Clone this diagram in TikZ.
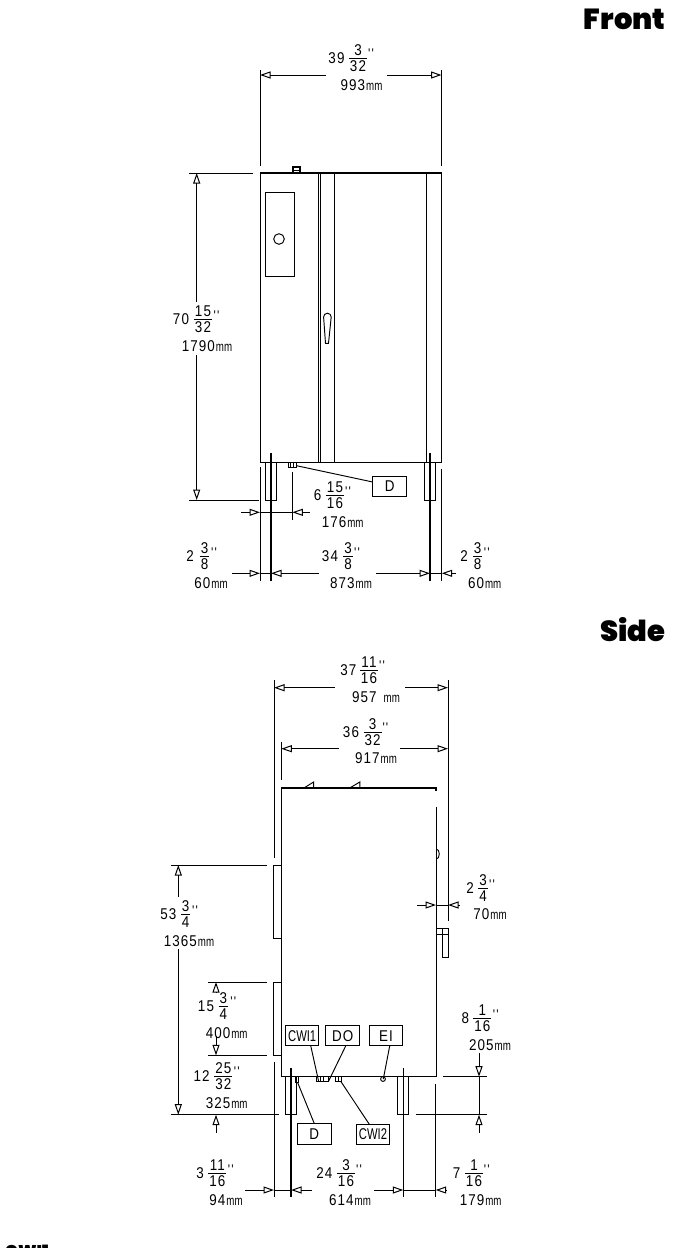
\documentclass[tikz,border=0pt]{standalone}
\usepackage{fontspec}
\usetikzlibrary{arrows.meta}
\newfontfamily\isofont[FakeStretch=0.86,LetterSpace=7]{Liberation Sans}
\newfontfamily\mmfont[FakeStretch=0.72]{Liberation Sans}
\newfontfamily\headfont{Poppins Black}
\newcommand{\iso}{\fontsize{15.6}{15.6}\selectfont\isofont}
\newcommand{\qmark}{\fontsize{14}{14}\selectfont\isofont '\hspace{1.2pt}'}
\newcommand{\mmtx}[1]{{\iso #1}\hspace{1pt}{\fontsize{13.5}{13.5}\selectfont\mmfont mm}}
% \fr{name}{int x}{int text}{frac x}{middle y}{num}{den}{quote x}
\newcommand{\fr}[8]{%
  \node[txt] (#1i) at (#2,#5) {#3};
  \node[txt] (#1n) at (#4,#5-8) {#6};
  \node[txt] (#1d) at (#4,#5+8) {#7};
  \draw[ln] ([yshift=2.5pt,xshift=-1pt]#1d.north west) -- ([yshift=2.5pt,xshift=1pt]#1d.north east);
  \node[qt] (#1q) at (#8,#5-4) {\qmark};
}
\tikzset{
  ln/.style={line width=0.95pt,black},
  thk/.style={line width=1.3pt,black},
  txt/.style={inner sep=0pt,outer sep=0pt,font=\iso},
  qt/.style={inner sep=0pt,outer sep=0pt},
  hd/.style={inner sep=0pt,outer sep=0pt,anchor=base east,font=\fontsize{29}{29}\selectfont\headfont},
  box/.style={draw=black,line width=1pt,inner sep=0pt,outer sep=0pt,font=\iso},
  dim/.style={line width=0.95pt,black,{Triangle[open,length=10.5pt,width=7pt,line width=1pt]}-},
}
\begin{document}
\begin{tikzpicture}[x=1pt,y=-1pt]
\clip (0,0) rectangle (674,1248);
\fill[white] (0,0) rectangle (674,1248);
% ===== headings
\node[hd] (hfront) at (665.5,29.5) {Front};
\node[hd] (hside) at (665.5,641.5) {Side};
\node[inner sep=0pt,anchor=base west,font=\fontsize{17}{17}\selectfont\headfont] (hcwi) at (5,1257.5) {CWI1};
% ===== FRONT view
\draw[ln] (260,173) rectangle (441.5,462.3);
\draw[thk] (260,173) -- (441.5,173) (260,462.3) -- (441.5,462.3);
\draw[ln] (318.4,173) -- (318.4,462.3);
\draw[ln] (320.4,173) -- (320.4,462.3);
\draw[ln] (334.5,173) -- (334.5,462.3);
\draw[ln] (426.5,173) -- (426.5,462.3);
\draw[ln] (265,192) rectangle (294,276);
\draw[ln] (279,239) circle (5.3);
\draw[thk] (293,167) rectangle (300,173);
\draw[ln] (293,170) -- (300,170);
\draw[ln] (323.6,317) arc (180:360:3.8) -- (328.5,343.3) -- (325.5,343.3) -- cycle;
% front feet
\draw[ln] (265.3,462.3) -- (265.3,500) -- (276.7,500) -- (276.7,462.3);
\draw[ln] (424.7,462.3) -- (424.7,500) -- (435.7,500) -- (435.7,462.3);
\draw[thk] (424.7,462.3) -- (424.7,500);
\draw[thk] (271,453) -- (271,581);
\draw[thk] (430,453) -- (430,581);
\draw[ln] (260,467) -- (260,581);
\draw[ln] (441.7,469) -- (441.7,581);
% drain
\draw[ln] (288,462.3) rectangle (296.5,467.3);
\draw[ln] (290.8,462.3) -- (290.8,467.3) (293.5,462.3) -- (293.5,467.3);
\node[box,minimum width=34pt,minimum height=20.5pt] (dfront) at (389.7,486.3) {D};
\coordinate (dfrontp) at (296.5,465.7);
\draw[ln] (dfrontp) -- (dfront.west |- 0,482);
% extension lines
\draw[ln] (260,70) -- (260,166);
\draw[ln] (441.5,70) -- (441.5,166);
\draw[ln] (189,173) -- (253,173);
\draw[ln] (189,500) -- (259,500);
\draw[ln] (292.3,472) -- (292.3,520);
% front dimensions
\draw[dim] (260,75) -- (325.5,75);
\draw[dim] (441.5,75) -- (387,75);
\fr{a}{336.5}{39}{358}{58}{3}{32}{371}
\node[txt] (am) at (361.5,85) {\mmtx{993}};
\draw[dim] (196.7,173) -- (196.7,302);
\draw[dim] (196.7,500) -- (196.7,355);
\fr{b}{181}{70}{203}{319.5}{15}{32}{216.5}
\node[txt] (bm) at (207,346.5) {\mmtx{1790}};
\draw[dim] (260,512.3) -- (241.3,512.3);
\draw[dim] (292.3,512.3) -- (310,512.3);
\draw[ln] (260,512.3) -- (292.3,512.3);
\fr{c}{317.7}{6}{335}{495.5}{15}{16}{348}
\node[txt] (cm) at (342.7,522) {\mmtx{176}};
\draw[dim] (260,573.3) -- (231.7,573.3);
\draw[ln] (260,573.3) -- (271,573.3);
\draw[dim] (271,573.3) -- (318.5,573.3);
\draw[dim] (430,573.3) -- (375.7,573.3);
\draw[ln] (430,573.3) -- (441.7,573.3);
\draw[dim] (441.7,573.3) -- (456,573.3);
\fr{d}{190}{2}{204.7}{556.5}{3}{8}{214}
\node[txt] (dm) at (211,583) {\mmtx{60}};
\fr{e}{330}{34}{348}{556.5}{3}{8}{357}
\node[txt] (em) at (351,583) {\mmtx{873}};
\fr{f}{464}{2}{477.7}{556.5}{3}{8}{486.7}
\node[txt] (fm) at (484.7,583) {\mmtx{60}};
% ===== SIDE view
\draw[thk] (281.3,1076.7) -- (281.3,788) -- (436,788) -- (436,791);
\draw[ln] (436,806.7) -- (436,1076.7) ;
\draw[thk] (281.3,1076.7) -- (436,1076.7);
\draw[ln] (313.6,782) -- (313.6,788) -- (303.9,788) -- cycle;
\draw[ln] (359.8,782) -- (359.8,788) -- (349.7,788) -- cycle;
\draw[ln] (436.3,849) arc (-90:90:3 and 5);
% side panels
\draw[ln] (281.3,865) -- (273.7,865) -- (273.7,938.3) -- (281.3,938.3);
\draw[ln] (281.3,982) -- (273.7,982) -- (273.7,1055.3) -- (281.3,1055.3);
% door handle
\draw[ln] (442.7,928.3) rectangle (448.3,957.7);
\draw[ln] (436,928.3) -- (442.7,928.3);
\draw[ln] (436,934.3) -- (448.3,934.3);
% side feet
\draw[ln] (285.7,1076.7) -- (285.7,1114.7) -- (296.7,1114.7);
\draw[thk] (296.7,1076.7) -- (296.7,1114.7);
\draw[thk] (397.7,1076.7) -- (397.7,1114.7);
\draw[ln] (397.7,1114.7) -- (408.7,1114.7) -- (408.7,1076.7);
\draw[thk] (291,1068.3) -- (291,1196.7);
\draw[thk] (403.3,1068.3) -- (403.3,1196.7);
\draw[ln] (274,1062.3) -- (274,1196.7);
\draw[ln] (435.7,1084.3) -- (435.7,1196.7);
% connections under the body
\draw[ln] (295.7,1076.7) rectangle (298.3,1082.7);
\draw[ln] (316.7,1076.7) rectangle (328.3,1081.7);
\draw[ln] (320,1076.7) -- (320,1081.7) (323.5,1076.7) -- (323.5,1081.7);
\draw[ln] (335.7,1076.7) rectangle (341.3,1081.7);
\draw[ln] (338.5,1076.7) -- (338.5,1081.7);
\draw[ln] (383,1079) circle (2.4);
\node[box,minimum width=33pt,minimum height=20pt,font=\fontsize{15.6}{15.6}\selectfont\mmfont] (cwione) at (302.2,1035.7) {CWI1};
\node[box,minimum width=34pt,minimum height=20.5pt] (dol) at (342.7,1035.7) {DO};
\node[box,minimum width=33.5pt,minimum height=20.5pt] (eil) at (386,1035.7) {EI};
\node[box,minimum width=34pt,minimum height=20.5pt] (ds) at (314.3,1133.8) {D};
\node[box,minimum width=32.6pt,minimum height=20.5pt,font=\fontsize{15.6}{15.6}\selectfont\mmfont] (cwitwo) at (373,1134.5) {CWI2};
\coordinate (p1) at (318.7,1081.7);
\coordinate (p2) at (328.3,1081.7);
\coordinate (p3) at (383.3,1079);
\coordinate (p4) at (297.7,1082.7);
\coordinate (p5) at (341,1081.7);
\draw[ln] (cwione.south -| 310.7,0) -- (p1);
\draw[ln] (dol.south -| 345.7,0) -- (p2);
\draw[ln] (eil.south -| 389.7,0) -- (p3);
\draw[ln] (ds.north) -- (p4);
\draw[ln] (cwitwo.north -| 369.3,0) -- (p5);
% extension lines
\draw[ln] (274,680) -- (274,858);
\draw[ln] (448,680) -- (448,921);
\draw[ln] (281.3,741.7) -- (281.3,780);
\draw[ln] (171,865) -- (267.4,865);
\draw[ln] (170.7,1114.7) -- (279,1114.7);
\draw[ln] (208.3,982) -- (266.7,982);
\draw[ln] (208.3,1055.3) -- (266.7,1055.3);
\draw[ln] (443.3,1076.7) -- (486.7,1076.7);
\draw[ln] (416,1114.7) -- (486.7,1114.7);
% side dimensions
\draw[dim] (274,687.7) -- (335,687.7);
\draw[dim] (448,687.7) -- (405,687.7);
\fr{g}{348.3}{37}{369}{670}{11}{16}{382}
\node[txt] (gm) at (376,697) {\iso 957\hspace{7pt}\fontsize{13.5}{13.5}\selectfont\mmfont mm};
\draw[dim] (281.3,748.7) -- (338.6,748.7);
\draw[dim] (448,748.7) -- (400.4,748.7);
\fr{h}{351}{36}{372.6}{732}{3}{32}{385.4}
\node[txt] (hm) at (376,757.7) {\mmtx{917}};
\draw[dim] (436,905) -- (417.3,905);
\draw[ln] (436,905) -- (448,905);
\draw[dim] (448,905) -- (460,905);
\fr{i}{470}{2}{483}{888.5}{3}{4}{492}
\node[txt] (im) at (490,914) {\mmtx{70}};
\draw[dim] (178.3,865) -- (178.3,896.7);
\draw[dim] (178.3,1114.7) -- (178.3,949.3);
\fr{j}{168.3}{53}{185.7}{914.5}{3}{4}{195}
\node[txt] (jm) at (189,941) {\mmtx{1365}};
\draw[dim] (216,982) -- (216,992);
\draw[dim] (216,1055.3) -- (216,1036);
\fr{k}{206}{15}{223.3}{1006}{3}{4}{233.3}
\node[txt] (km) at (226.7,1033.3) {\mmtx{400}};
\draw[dim] (216,1114.7) -- (216,1132.7);
\fr{l}{201.7}{12}{223.3}{1076}{25}{32}{236.7}
\node[txt] (lm) at (226.7,1102.7) {\mmtx{325}};
\draw[dim] (479,1076.7) -- (479,1053.3);
\draw[dim] (479,1114.7) -- (479,1132.7);
\draw[ln] (479,1076.7) -- (479,1114.7);
\fr{m}{465.3}{8}{482.3}{1018.5}{1}{16}{495.7}
\node[txt] (mm) at (490,1045.3) {\mmtx{205}};
\draw[dim] (274,1190) -- (245,1190);
\draw[ln] (274,1190) -- (291,1190);
\draw[dim] (291,1190) -- (312.3,1190);
\draw[dim] (403.3,1190) -- (374,1190);
\draw[ln] (403.3,1190) -- (435.7,1190);
\draw[dim] (435.7,1190) -- (447.3,1190);
\fr{n}{200}{3}{217.3}{1173.5}{11}{16}{230.7}
\node[txt] (nm) at (226,1200) {\mmtx{94}};
\fr{o}{324.3}{24}{346}{1173.5}{3}{16}{359}
\node[txt] (om) at (350,1200) {\mmtx{614}};
\fr{p}{456.7}{7}{474}{1173.5}{1}{16}{486.7}
\node[txt] (pm) at (480.7,1200) {\mmtx{179}};
\end{tikzpicture}
\end{document}
